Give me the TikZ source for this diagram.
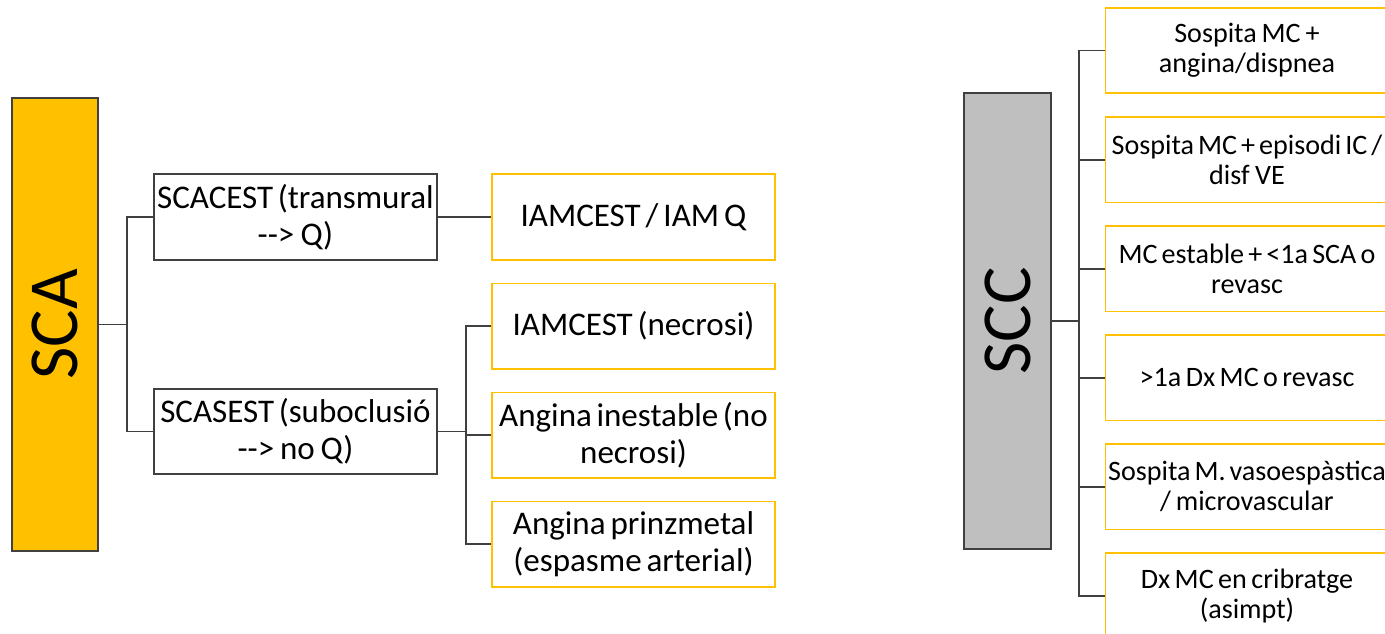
\documentclass[tikz,border=0pt]{standalone}
\usepackage{fontspec}
\usepackage{graphicx}
\setmainfont{Carlito}
\usetikzlibrary{positioning}

\definecolor{amber}{HTML}{FFC000}
\definecolor{greybox}{HTML}{BFBFBF}
\definecolor{darkline}{HTML}{404040}

\begin{document}
\begin{tikzpicture}[x=0.02cm, y=-0.02cm, node distance=0.44cm,
    root/.style={draw=darkline, line width=0.9pt, minimum width=1.73cm, inner sep=0pt, font=\fontsize{40}{48}\selectfont},
    kind/.style={draw=darkline, line width=0.9pt, fill=white, text width=6.4cm, inner xsep=-0.37cm, inner ysep=0pt,
        minimum height=1.71cm, align=center, font=\fontsize{18.8}{21}\selectfont,
        execute at begin node={\spaceskip=0.13em plus 0.03em minus 0.02em\relax}},
    leaf/.style={kind, draw=amber},
    chronic/.style={leaf, font=\fontsize{16}{17}\selectfont},
    link/.style={draw=darkline, line width=1.1pt}]
    \clip (0,0) rectangle (1385,634);

    % Nodes: acute side
    \node[root, fill=amber, minimum height=9.06cm] (SCA) at (55,324.5) {\rotatebox{90}{SCA}};
    \node[kind] (SCACEST) at (295.5,217) {SCACEST (transmural\\{-}{-}> Q)};
    \node[kind] (SCASEST) at (295.5,431.5) {SCASEST (suboclusió\\{-}{-}> no Q)};
    \node[leaf] (IAMQ) at (633.5,217) {IAMCEST / IAM Q};
    \node[leaf] (necrosi) [below=of IAMQ] {IAMCEST (necrosi)};
    \node[leaf] (inestable) [below=of necrosi] {Angina inestable (no\\necrosi)};
    \node[leaf] (prinz) [below=of inestable] {Angina prinzmetal\\(espasme arterial)};

    % Nodes: chronic side
    \node[root, fill=greybox, minimum height=9.12cm] (SCC) at (1007.5,321) {\rotatebox{90}{SCC}};
    \node[chronic] (CC1) at (1247,50.5) {Sospita MC +\\angina/dispnea};
    \node[chronic] (CC2) [below=of CC1] {Sospita MC + episodi IC /\\disf VE};
    \node[chronic] (CC3) [below=of CC2] {MC estable + <1a SCA o\\revasc};
    \node[chronic] (CC4) [below=of CC3] {>1a Dx MC o revasc};
    \node[chronic] (CC5) [below=of CC4] {Sospita M. vasoespàstica\\/ microvascular};
    \node[chronic] (CC6) [below=of CC5] {Dx MC en cribratge\\(asimpt)};

    % Connectors
    \draw[link] (SCA.east) -- +(28,0) |- (SCACEST.west);
    \draw[link] (SCA.east) -- +(28,0) |- (SCASEST.west);
    \draw[link] (SCACEST) -- (IAMQ);
    \draw[link] (SCASEST.east) -- +(28,0) |- (necrosi.west);
    \draw[link] (SCASEST.east) -- +(28,0) |- (inestable.west);
    \draw[link] (SCASEST.east) -- +(28,0) |- (prinz.west);

    \draw[link] (SCC.east) -- +(27,0) |- (CC1.west);
    \draw[link] (SCC.east) -- +(27,0) |- (CC2.west);
    \draw[link] (SCC.east) -- +(27,0) |- (CC3.west);
    \draw[link] (SCC.east) -- +(27,0) |- (CC4.west);
    \draw[link] (SCC.east) -- +(27,0) |- (CC5.west);
    \draw[link] (SCC.east) -- +(27,0) |- (CC6.west);
\end{tikzpicture}
\end{document}
